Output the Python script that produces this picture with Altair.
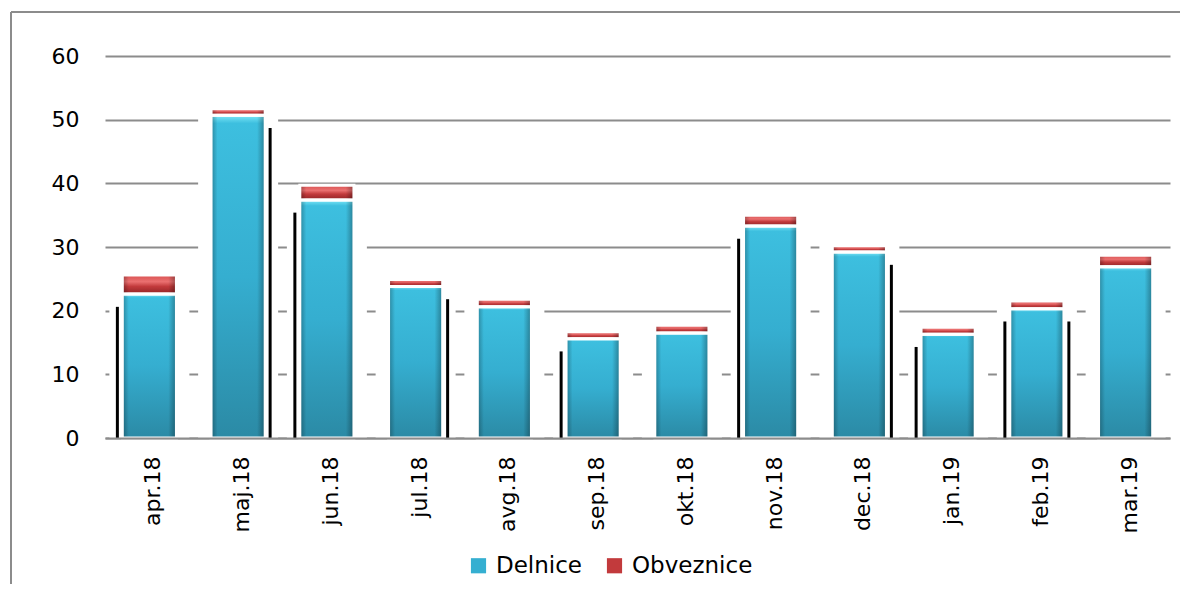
import altair as alt
import pandas as pd

months = ["apr.18", "maj.18", "jun.18", "jul.18", "avg.18", "sep.18",
          "okt.18", "nov.18", "dec.18", "jan.19", "feb.19", "mar.19"]
delnice = [22.6, 50.7, 37.4, 23.8, 20.6, 15.6, 16.5, 33.3, 29.2, 16.3, 20.3, 26.9]
obveznice = [3.0, 1.0, 2.3, 1.1, 1.2, 1.1, 1.2, 1.7, 1.0, 1.1, 1.2, 1.8]
y_ticks = [0, 10, 20, 30, 40, 50, 60]

# decorative render artefact of the original: dark edge on the left/right of some bars
shadow_left = ["apr.18", "jun.18", "sep.18", "nov.18", "jan.19", "feb.19"]
shadow_right = ["maj.18", "jul.18", "dec.18", "feb.19"]

df = pd.DataFrame({"month": months, "Delnice": delnice, "Obveznice": obveznice})

FONT = "DejaVu Sans"
W, H = 1065, 382

base = alt.Chart(df).transform_calculate(
    total="datum.Delnice + datum.Obveznice"
)

xscale = alt.Scale(paddingInner=0.39, paddingOuter=0.195)
xenc = alt.X(
    "month:N", sort=months, title=None, scale=xscale,
    axis=alt.Axis(labelAngle=-90, labelFont=FONT, labelFontSize=22, labelColor="#000",
                  labelPadding=18, labelOffset=4, ticks=False, domainColor="#8c8c8c",
                  domainWidth=2, grid=False, zindex=1),
)
yaxis = alt.Axis(values=y_ticks, labelFont=FONT, labelFontSize=22, labelColor="#000",
                 labelPadding=26, ticks=False, domain=False, gridColor="#8c8c8c",
                 gridWidth=2, title=None)
yscale = alt.Scale(domain=[0, 60], nice=False)

halo = base.mark_bar(color="white", size=80).encode(
    x=xenc,
    y=alt.Y("total:Q", scale=yscale, axis=yaxis),
)

shadow_l = base.transform_filter(
    alt.FieldOneOfPredicate(field="month", oneOf=shadow_left)
).transform_calculate(h="datum.Delnice - 2").mark_rule(
    color="black", strokeWidth=3, xOffset=-32
).encode(x=alt.X("month:N", sort=months, scale=xscale),
         y=alt.Y("h:Q", scale=yscale), y2=alt.datum(0))
shadow_r = base.transform_filter(
    alt.FieldOneOfPredicate(field="month", oneOf=shadow_right)
).transform_calculate(h="datum.Delnice - 2").mark_rule(
    color="black", strokeWidth=3, xOffset=32
).encode(x=alt.X("month:N", sort=months, scale=xscale),
         y=alt.Y("h:Q", scale=yscale), y2=alt.datum(0))

color_scale = alt.Scale(domain=["Delnice", "Obveznice"], range=["#35afd1", "#c23a3c"])
legend = alt.Legend(title=None, orient="none", legendX=362, legendY=498, direction="horizontal",
                    labelFont=FONT, labelFontSize=23, labelColor="#000", symbolType="square",
                    symbolSize=230, symbolStrokeWidth=0, columnPadding=20, labelOffset=6)

solid = alt.Chart(df).transform_fold(
    ["Delnice", "Obveznice"], as_=["series", "value"]
).mark_bar().encode(
    x=xenc,
    y=alt.Y("value:Q", scale=yscale, stack="zero"),
    color=alt.Color("series:N", scale=color_scale, legend=legend),
    order=alt.Order("series:N", sort="ascending"),
)

cyan_grad = alt.LinearGradient(
    gradient="linear", x1=0, y1=0, x2=0, y2=1,
    stops=[alt.GradientStop(offset=0, color="#7fe8f8"),
           alt.GradientStop(offset=0.025, color="#3dbfdf"),
           alt.GradientStop(offset=0.5, color="#35aed0"),
           alt.GradientStop(offset=1, color="#2b8aa5")],
)
red_grad = alt.LinearGradient(
    gradient="linear", x1=0, y1=0, x2=0, y2=1,
    stops=[alt.GradientStop(offset=0, color="#d85050"),
           alt.GradientStop(offset=0.35, color="#ea7070"),
           alt.GradientStop(offset=0.6, color="#c23a3c"),
           alt.GradientStop(offset=1, color="#8e2426")],
)
side = alt.LinearGradient(
    gradient="linear", x1=0, y1=0, x2=1, y2=0,
    stops=[alt.GradientStop(offset=0, color="rgba(0,0,0,0.30)"),
           alt.GradientStop(offset=0.12, color="rgba(0,0,0,0.0)"),
           alt.GradientStop(offset=0.85, color="rgba(0,0,0,0.0)"),
           alt.GradientStop(offset=1, color="rgba(0,0,0,0.35)")],
)

del_grad = base.mark_bar(fill=cyan_grad).encode(
    x=xenc, y=alt.Y("Delnice:Q", scale=yscale))
obv_grad = base.mark_bar(fill=red_grad).encode(
    x=xenc, y=alt.Y("Delnice:Q", scale=yscale), y2="total:Q")
del_side = base.mark_bar(fill=side, stroke="white", strokeWidth=3).encode(
    x=xenc, y=alt.Y("Delnice:Q", scale=yscale))
obv_side = base.mark_bar(fill=side, stroke="white", strokeWidth=3).encode(
    x=xenc, y=alt.Y("Delnice:Q", scale=yscale), y2="total:Q")

frame_data = alt.Data(values=[{"k": 1}])
frame_top = alt.Chart(frame_data).mark_rule(color="#8c8c8c", strokeWidth=2).encode(
    x=alt.value(-94), x2=alt.value(1100), y=alt.value(-44))
frame_left = alt.Chart(frame_data).mark_rule(color="#8c8c8c", strokeWidth=2).encode(
    x=alt.value(-94), y=alt.value(-44), y2=alt.value(H + 146))

chart = alt.layer(
    halo, shadow_l, shadow_r, solid, del_grad, obv_grad, del_side, obv_side,
    frame_top, frame_left
).properties(
    width=W, height=H,
    autosize=alt.AutoSizeParams(type="none"),
    padding={"left": 97, "top": 48, "right": 10, "bottom": 146},
).configure_view(stroke=None)

chart.save("out.html", embed_options={"renderer": "svg", "actions": False})
